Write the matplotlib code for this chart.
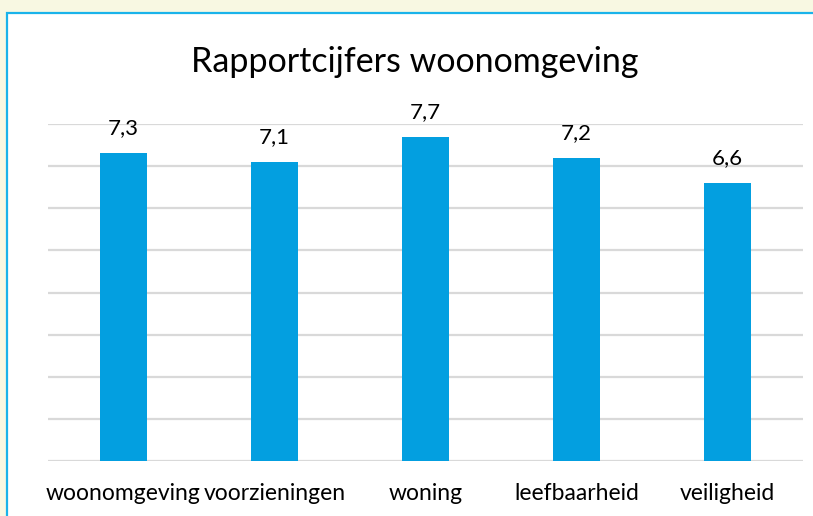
import matplotlib.pyplot as plt
from matplotlib.patches import Rectangle

categories = ['woonomgeving', 'voorzieningen', 'woning', 'leefbaarheid', 'veiligheid']
scores = [7.3, 7.1, 7.7, 7.2, 6.6]
score_labels = ['7,3', '7,1', '7,7', '7,2', '6,6']

plt.rcParams['font.family'] = ['Lato', 'DejaVu Sans']

W, H = 813, 516
fig = plt.figure(figsize=(W / 100, H / 100), dpi=100)
fig.patch.set_facecolor('#f8f8e2')

# white chart panel with cyan border (runs off the right and bottom edge)
panel = Rectangle((6.5 / W, -0.05), 1.0, 1 - 12.5 / H + 0.05,
                  transform=fig.transFigure, facecolor='white',
                  edgecolor='#1ab3ea', linewidth=1.6, zorder=-1)
fig.patches.append(panel)

ax = fig.add_axes([48 / W, 55 / H, 755 / W, 337 / H])
ax.set_facecolor('none')
x = range(len(categories))
ax.bar(x, scores, width=0.31, color='#039fe0', zorder=3)

ax.set_ylim(0, 8)
ax.set_xlim(-0.5, len(categories) - 0.5)
ax.set_yticks(range(0, 9))
ax.yaxis.grid(True, color='#d9d9d9', linewidth=1.6, zorder=0)
ax.set_axisbelow(True)
ax.tick_params(axis='y', left=False, labelleft=False)
ax.tick_params(axis='x', bottom=False, labelsize=16.5, pad=12, colors='black')
ax.set_xticks(list(x))
ax.set_xticklabels(categories)
for side in ['top', 'right', 'left', 'bottom']:
    ax.spines[side].set_visible(False)

for xi, v, lab in zip(x, scores, score_labels):
    ax.annotate(lab, (xi, v), xytext=(0, 13.7), textcoords='offset points',
                ha='center', va='baseline', fontsize=16, color='black')

fig.text(415 / W, 1 - 62 / H, 'Rapportcijfers woonomgeving', ha='center',
         va='center', fontsize=24.5, color='black')

fig.savefig('out.png', dpi=100, facecolor=fig.get_facecolor())
